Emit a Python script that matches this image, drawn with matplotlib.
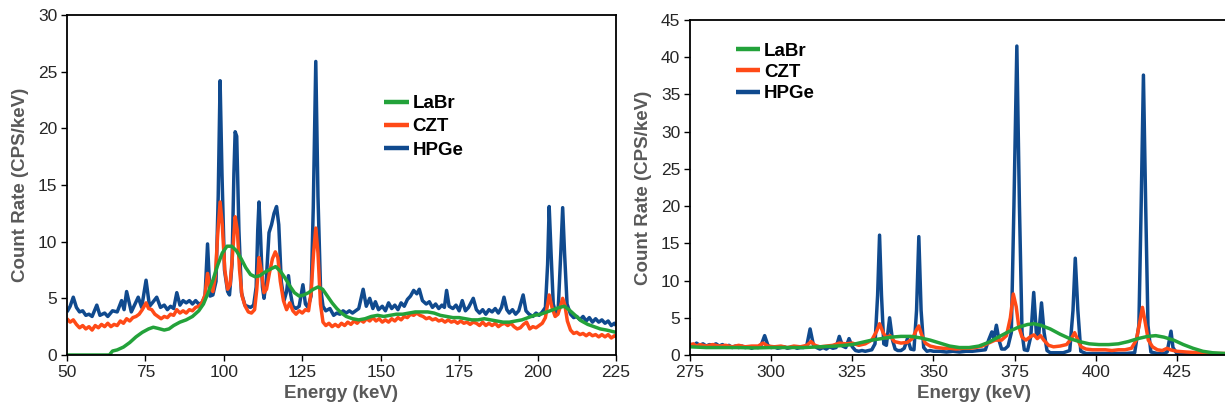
import matplotlib
matplotlib.use("Agg")
import matplotlib.pyplot as plt

plt.rcParams['font.family'] = ['Liberation Sans', 'DejaVu Sans']

# ---------------- low-energy spectra (50-225 keV) ----------------
lo_hpge_e = [50, 51, 52, 53, 54, 55, 56, 57, 58, 59.5, 60.5, 62, 63, 64.5, 66, 67.4, 68.2, 69, 70.5, 71.5,
             72.7, 73.8, 75.2, 76.3, 77.2, 78.6, 79.8, 81, 82, 83, 84, 85, 86, 87, 88, 89, 90, 91, 92, 93,
             94, 94.8, 95.6, 96.5, 97.5, 98.2, 98.8, 99.4, 100.2, 101.2, 101.8, 102.6, 103.2, 103.6, 104.1,
             104.8, 105.6, 106.7, 107.5, 108.5, 109.5, 110.3, 110.8, 111.2, 111.7, 112.3, 112.8, 113.5,
             114.4, 115.2, 116, 116.8, 117.5, 118.3, 119.2, 120, 120.6, 121.2, 122, 123, 124, 125.2, 126,
             126.8, 127.8, 128.5, 129.3, 130, 130.8, 131.6, 132.5, 133.8, 135, 136, 137, 138, 139, 140, 141,
             142, 143, 144.4, 145.4, 146.5, 147.5, 148.3, 149.3, 150.5, 151.5, 152.5, 153.5, 154.5, 155.5,
             156.5, 157.5, 158.5, 159.5, 160.5, 161.5, 162.3, 163.3, 164.5, 165.5, 166.5, 167.5, 168.5,
             169.5, 170.3, 171, 171.8, 173, 174, 175, 176, 177, 178, 179.5, 180.5, 181.5, 182.5, 183.5,
             184.5, 185.5, 186.5, 187.5, 188.5, 189.3, 190.2, 191, 192, 193, 194, 195.4, 196.3, 197.3,
             198.5, 199.5, 200.5, 201.5, 202.5, 203.2, 203.7, 204.3, 205, 205.8, 206.6, 207.4, 208, 208.6,
             209.4, 210.5, 211.5, 212.5, 213.5, 214.5, 215.5, 216.5, 217.5, 218.5, 219.5, 220.5, 221.5,
             222.5, 223.5, 224.5, 225]
lo_hpge_v = [3.8, 4.3, 5.1, 4.2, 3.8, 3.9, 3.5, 3.6, 3.4, 4.4, 3.5, 3.7, 3.4, 3.9, 3.8, 4.8, 4.0, 5.6, 3.8, 4.4,
             5.1, 4.2, 6.6, 4.3, 4.6, 5.1, 4.2, 4.4, 4.0, 4.3, 4.1, 5.5, 4.4, 4.8, 4.6, 4.8, 4.5, 4.8, 4.5, 4.6,
             5.2, 9.8, 5.2, 5.3, 6.5, 14, 24.2, 16, 7.5, 5.6, 5.3, 8, 16, 19.7, 19.3,
             11, 5.5, 4.4, 4.3, 4.2, 4.4, 6, 11, 13.5, 10.5, 6, 5.0, 6.5,
             10.8, 11.5, 12.5, 13.1, 11.5, 6.5, 4.8, 5.6, 7.0, 5.5, 4.3, 4.1, 4.3, 6.2, 4.5,
             4.2, 5.2, 13, 25.9, 14, 6, 4.3, 3.9, 4.1, 3.5, 3.7, 3.6, 3.9, 3.7, 3.9, 3.7,
             3.9, 4.1, 5.8, 4.3, 5.0, 4.1, 4.7, 4.0, 4.3, 3.9, 4.6, 4.1, 4.4, 4.0,
             4.6, 4.3, 4.9, 5.2, 5.7, 5.4, 5.8, 4.8, 4.5, 4.7, 4.2, 4.5, 4.1,
             4.4, 4.2, 5.7, 4.3, 4.1, 4.4, 3.9, 4.8, 3.9, 4.2, 5.0, 4.0, 3.7, 4.0, 3.6,
             4.0, 3.8, 4.1, 3.7, 4.2, 5.1, 4.0, 3.7, 4.0, 3.6, 3.9, 5.3, 3.9, 3.6,
             3.4, 3.7, 3.5, 3.8, 4.2, 8, 13.1, 9, 4.5, 3.7, 4.2, 9, 13.0, 9,
             4.5, 3.6, 3.3, 3.4, 3.1, 3.4, 3.0, 3.3, 2.9, 3.2, 2.9, 3.1, 2.8,
             3.0, 2.6, 2.8, 2.6]

lo_czt_e = [50, 51, 52, 53, 54, 55, 56, 57, 58, 59, 60, 61, 62, 63, 64, 65, 66, 67, 68, 69, 70, 71, 72, 73,
            74, 75.2, 76, 77, 78, 79, 80, 81, 82, 83, 84, 85, 86, 87, 88, 89, 90, 91, 92, 93, 94, 94.8,
            95.6, 96.5, 97.3, 98, 98.8, 99.5, 100.3, 101.2, 102, 102.8, 103.6, 104.3, 105, 105.8, 106.8,
            107.8, 108.8, 109.8, 110.5, 111.2, 111.9, 112.8, 113.6, 114.5, 115.5, 116.4, 117.2, 118, 119,
            120, 121, 122, 123, 124, 125, 126, 127, 127.8, 128.6, 129.3, 130, 130.8, 131.6, 132.5, 133.5,
            134.5, 135.5, 136.5, 137.5, 138.5, 139.5, 140.5, 141.5, 142.5, 143.5, 144.5, 145.5, 146.5,
            147.5, 148.5, 149.5, 150.5, 151.5, 152.5, 153.5, 154.5, 155.5, 156.5, 157.5, 158.5, 159.5,
            160.5, 161.5, 162.5, 163.5, 164.5, 165.5, 166.5, 167.5, 168.5, 169.5, 170.5, 171.5, 172.5,
            173.5, 174.5, 175.5, 176.5, 177.5, 178.5, 179.5, 180.5, 181.5, 182.5, 183.5, 184.5, 185.5,
            186.5, 187.5, 188.5, 189.5, 190.5, 191.5, 192.5, 193.5, 194.5, 195.5, 196.5, 197.5, 198.5,
            199.5, 200.5, 201.5, 202.5, 203.7, 204.6, 205.6, 206.5, 207.3, 208, 208.7, 209.5, 210.5,
            211.5, 212.5, 213.5, 214.5, 215.5, 216.5, 217.5, 218.5, 219.5, 220.5, 221.5, 222.5, 223.5,
            224.5, 225]
lo_czt_v = [3.2, 2.9, 3.1, 2.7, 2.4, 2.6, 2.3, 2.5, 2.2, 2.6, 2.4, 2.7, 2.5, 2.8, 2.5, 2.7, 2.6, 3.0, 2.8,
            3.2, 3.0, 3.3, 3.4, 3.6, 4.0, 4.6, 4.1, 4.0, 3.6, 3.4, 3.2, 3.4, 3.3, 3.6, 3.5, 4.0, 3.7, 3.9,
            3.7, 4.0, 3.9, 4.2, 4.3, 4.6, 5.3, 7.2, 6.0, 5.6, 7.0, 10.5, 13.5, 11.5, 7.5, 5.8, 6.2, 9,
            12.2, 11, 7.5, 5.2, 4.3, 3.8, 3.7, 4.0, 5.8, 8.6, 7.5, 5.5, 5.8, 7.2, 8.5, 9.1, 8.6, 6.5, 4.8,
            4.0, 4.6, 3.9, 3.6, 3.9, 3.7, 4.0, 3.9, 5.5, 9, 11.2, 9, 4.5, 2.9, 2.6, 2.8, 2.5, 2.7, 2.5,
            2.8, 2.6, 2.9, 2.7, 3.0, 2.8, 3.1, 2.9, 3.2, 3.0, 3.3, 3.0, 3.2, 2.9, 3.1, 2.9, 3.2, 3.0, 3.3,
            3.1, 3.4, 3.3, 3.6, 3.5, 3.7, 3.5, 3.4, 3.2, 3.3, 3.1, 3.2, 3.0, 3.1, 2.9, 3.1, 2.9, 3.0, 2.8,
            3.0, 2.8, 2.9, 2.7, 2.9, 2.8, 2.6, 2.9, 2.6, 2.8, 2.6, 2.8, 2.5, 2.7, 2.8, 2.6, 2.8, 2.5, 2.3,
            2.4, 2.7, 2.9, 2.3, 2.5, 2.4, 2.6, 2.8, 3.3, 5.3, 4.2, 3.4, 3.6, 4.3, 5.0, 4.4, 3.0, 2.2, 1.9,
            2.0, 1.8, 1.9, 1.7, 1.9, 1.7, 1.8, 1.6, 1.8, 1.6, 1.8, 1.5, 1.7, 1.6]

lo_labr_e = [50, 63.5, 64.5, 66, 68, 70, 72, 74, 76, 77.5, 79, 81, 82.5, 84, 86, 88, 90, 92, 93.5, 95, 96.5,
             98, 99.5, 101, 102.5, 104, 105.5, 107, 108.5, 110, 111.5, 113, 115, 116.5, 118, 119.5, 121,
             122.5, 124, 125.5, 127, 128.5, 130, 131.5, 133, 134.5, 136, 137.5, 139, 141, 143, 145, 147,
             149, 151, 153, 155, 157, 159, 161, 163, 165, 167, 169, 171, 173, 175, 177, 179, 181, 183, 185,
             187, 189, 191, 193, 195, 197, 199, 201, 203, 205, 207, 208.5, 210, 212, 214, 216, 218, 220,
             222, 225]
lo_labr_v = [0, 0, 0.35, 0.45, 0.7, 1.1, 1.6, 2.0, 2.3, 2.45, 2.35, 2.2, 2.3, 2.6, 2.9, 3.1, 3.4, 3.9, 4.5,
             5.5, 6.6, 7.9, 9.0, 9.6, 9.6, 9.2, 8.5, 7.7, 7.1, 6.9, 7.0, 7.3, 7.6, 7.8, 7.4, 6.8, 6.1, 5.5,
             5.2, 5.3, 5.5, 5.8, 6.0, 5.8, 5.2, 4.6, 4.1, 3.7, 3.4, 3.2, 3.1, 3.2, 3.4, 3.5, 3.4, 3.5, 3.6,
             3.6, 3.7, 3.8, 3.8, 3.8, 3.7, 3.5, 3.4, 3.3, 3.3, 3.2, 3.1, 3.1, 3.2, 3.1, 3.0, 2.9, 2.9, 3.0,
             3.1, 3.3, 3.5, 3.6, 3.8, 4.0, 4.2, 4.3, 4.0, 3.5, 3.0, 2.7, 2.5, 2.3, 2.2, 2.0]

# ---------------- high-energy spectra (275-450 keV) ----------------
hi_hpge_e = [275, 276, 277, 278, 279, 280, 281, 282, 283, 284, 285, 286, 287, 288, 289, 290, 291, 292, 293,
             294, 295, 296, 297, 298, 299, 300, 301, 302, 303, 304, 305, 306, 307, 308, 309, 310, 311, 312,
             313, 314, 315, 316, 317, 318, 319, 320, 321, 322, 323, 324, 325, 326, 327, 328, 329, 330, 331,
             332, 332.8, 333.4, 334, 334.7, 335.5, 336.5, 337.4, 338.2, 339, 340, 341, 342, 343, 344, 344.8,
             345.5, 346.2, 347, 348, 349, 350, 352, 354, 356, 358, 360, 362, 364, 366, 367, 368, 368.6,
             369.4, 370.2, 371, 372, 373, 374, 374.8, 375.7, 376.5, 377.3, 378, 379, 380, 380.9, 381.7,
             382.4, 383.3, 384.1, 385, 386, 388, 390, 392, 393, 393.7, 394.5, 395.4, 397, 400, 403, 406,
             409, 412, 413.3, 414, 414.7, 415.4, 416.1, 417, 419, 421, 422, 422.7, 423.2, 423.8, 425, 430,
             435, 440, 450]
hi_hpge_v = [1.5, 1.2, 1.6, 1.3, 1.5, 1.2, 1.4, 1.3, 1.5, 1.2, 1.4, 1.1, 1.3, 1.0, 1.2, 1.0, 1.2, 1.0, 1.1,
             0.9, 1.1, 1.0, 1.4, 2.6, 1.3, 1.0, 1.1, 0.9, 1.0, 1.1, 0.9, 1.0, 1.1, 0.9, 1.0, 1.0, 1.3, 3.5,
             1.4, 1.0, 0.8, 1.0, 0.8, 1.1, 0.9, 1.0, 2.5, 1.2, 1.0, 2.2, 1.1, 0.6, 0.5, 0.6, 0.5, 0.6, 0.7,
             1.5, 8, 16.1, 8, 1.5, 1.3, 5.0, 2.0, 0.8, 0.6, 0.6, 0.9, 2.2, 0.8, 0.7, 6,
             15.9, 6, 1.0, 0.5, 0.6, 0.5, 0.5, 0.4, 0.5, 0.4, 0.5, 0.5, 0.6, 0.7, 2.0, 3.1, 2.2,
             4.0, 2.0, 0.8, 0.8, 1.2, 3, 20, 41.5, 20, 3, 0.7, 0.6, 2.5, 8.4, 3,
             2.5, 7.0, 3, 0.6, 0.3, 0.3, 0.3, 0.6, 6, 13.0, 6, 0.5, 0.2, 0.2, 0.2, 0.2,
             0.2, 0.3, 4, 20, 37.6, 20, 4, 0.4, 0.2, 0.2, 0.4, 2.0, 3.2, 1.0, 0.2, 0.1,
             0.1, 0.1, 0.1]

hi_czt_e = [275, 276, 277, 278, 279, 280, 282, 284, 286, 288, 290, 292, 294, 296, 297.5, 299, 301, 303, 305,
            307, 309, 311, 312.3, 313.5, 315, 317, 319, 321, 323, 325, 327, 329, 331, 332.5, 333.4, 334.5,
            335.5, 336.6, 338, 340, 342, 343.5, 344.8, 345.5, 346.3, 347.5, 349, 351, 353, 355, 357, 359,
            361, 363, 365, 367, 369, 371, 372.5, 373.7, 374.6, 375.5, 376.3, 377.3, 378.5, 380, 381, 382,
            383, 384, 385.5, 387, 389, 391, 392.5, 393.5, 394.5, 395.5, 397, 399, 401, 403, 405, 407, 409,
            411, 412.5, 413.6, 414.4, 415.2, 416.2, 417.5, 419, 420.5, 422, 423, 425, 428, 432, 436, 440,
            450]
hi_czt_v = [1.3, 1.5, 1.2, 1.4, 1.3, 1.2, 1.4, 1.2, 1.3, 1.1, 1.3, 1.1, 1.2, 1.2, 1.6, 1.2, 1.1, 1.2, 1.0,
            1.2, 1.1, 1.3, 1.8, 1.3, 1.1, 1.2, 1.3, 1.6, 1.5, 1.6, 1.3, 1.5, 2.0, 3.2, 4.2, 3.0,
            2.3, 2.6, 1.8, 1.6, 1.7, 2.2, 3.4, 3.9, 2.8, 1.6, 1.2, 1.0, 0.9, 0.9, 0.8, 0.9,
            0.9, 1.0, 1.2, 1.6, 2.0, 2.0, 2.6, 5, 8.2, 6.5, 3.8, 2.4, 2.0, 2.5, 2.7, 2.2,
            2.6, 2.0, 1.3, 1.1, 1.2, 1.4, 2.2, 3.0, 2.0, 1.1, 0.8, 0.7, 0.7, 0.7, 0.6, 0.7, 0.7,
            0.9, 2, 4.5, 6.4, 4.5, 2, 1.1, 0.7, 0.6, 0.9, 0.7, 0.5, 0.4, 0.3, 0.2, 0.2,
            0.1]

hi_labr_e = [275, 280, 285, 290, 295, 300, 305, 310, 315, 320, 325, 328, 331, 334, 337, 340, 343, 346, 349,
             352, 355, 358, 361, 364, 367, 370, 373, 376, 379, 381, 383, 386, 389, 392, 395, 398, 401, 404,
             407, 410, 413, 416, 418.5, 421, 424, 427, 430, 433, 436, 440, 445, 450]
hi_labr_v = [1.1, 1.0, 1.0, 1.0, 0.95, 1.0, 1.0, 1.0, 1.1, 1.2, 1.4, 1.7, 2.0, 2.2, 2.4, 2.5, 2.5, 2.3, 2.0,
             1.6, 1.2, 1.0, 1.0, 1.2, 1.7, 2.4, 3.1, 3.7, 4.1, 4.2, 4.0, 3.5, 2.8, 2.2, 1.8, 1.5, 1.4, 1.4,
             1.5, 1.8, 2.2, 2.5, 2.6, 2.4, 2.0, 1.4, 0.9, 0.5, 0.3, 0.2, 0.1, 0.1]

series_names = ['LaBr', 'CZT', 'HPGe']
series_colors = {'LaBr': '#23a23a', 'CZT': '#ff4a17', 'HPGe': '#104a8e'}

lo_ticks = [50, 75, 100, 125, 150, 175, 200, 225]
lo_yticks = [0, 5, 10, 15, 20, 25, 30]
hi_ticks = [275, 300, 325, 350, 375, 400, 425]
hi_yticks = [0, 5, 10, 15, 20, 25, 30, 35, 40, 45]

W, H = 1225, 413
fig = plt.figure(figsize=(W / 100, H / 100), dpi=100)

# the right-hand panel runs on past the right edge of the figure
ax1 = fig.add_axes([67 / W, 1 - 355 / H, (616 - 67) / W, (355 - 15) / H])
ax2 = fig.add_axes([690 / W, 1 - 355 / H, (1258 - 690) / W, (355 - 20) / H])

lw = 2.5
label_color = '#595959'
tick_color = '#262626'


def draw(ax, data, xlim, ylim, xticks, yticks):
    handles = {}
    for name in ['HPGe', 'CZT', 'LaBr']:
        e, v = data[name]
        h, = ax.plot(e, v, color=series_colors[name], lw=lw, label=name,
                     solid_joinstyle='round', solid_capstyle='butt')
        handles[name] = h
    ax.set_xlim(*xlim)
    ax.set_ylim(*ylim)
    ax.set_xticks(xticks)
    ax.set_yticks(yticks)
    ax.tick_params(direction='out', length=4, width=1.0, labelsize=12.5,
                   labelcolor=tick_color, color='black', pad=3)
    for s in ax.spines.values():
        s.set_linewidth(1.3)
        s.set_color('black')
    ax.set_xlabel('Energy (keV)', fontsize=13.5, fontweight='bold', color=label_color, labelpad=4)
    ax.set_ylabel('Count Rate (CPS/keV)', fontsize=13.5, fontweight='bold', color=label_color, labelpad=6)
    return [handles[n] for n in series_names]


h1 = draw(ax1, {'LaBr': (lo_labr_e, lo_labr_v), 'CZT': (lo_czt_e, lo_czt_v), 'HPGe': (lo_hpge_e, lo_hpge_v)},
          (50, 225), (0, 30), lo_ticks, lo_yticks)
h2 = draw(ax2, {'LaBr': (hi_labr_e, hi_labr_v), 'CZT': (hi_czt_e, hi_czt_v), 'HPGe': (hi_hpge_e, hi_hpge_v)},
          (275, 450), (0, 45), hi_ticks, hi_yticks)

leg_kw = dict(frameon=False, prop={'weight': 'bold', 'size': 13.5},
              handlelength=1.3, handletextpad=0.2, borderpad=0, borderaxespad=0,
              loc='upper left')
ax1.legend(h1, series_names, bbox_to_anchor=(0.578, 0.764), labelspacing=0.32, **leg_kw)
ax2.legend(h2, series_names, bbox_to_anchor=(0.081, 0.933), labelspacing=0.22, **leg_kw)
for leg in (ax1.get_legend(), ax2.get_legend()):
    for line in leg.get_lines():
        line.set_linewidth(3.2)

fig.savefig('out.png', dpi=100)
